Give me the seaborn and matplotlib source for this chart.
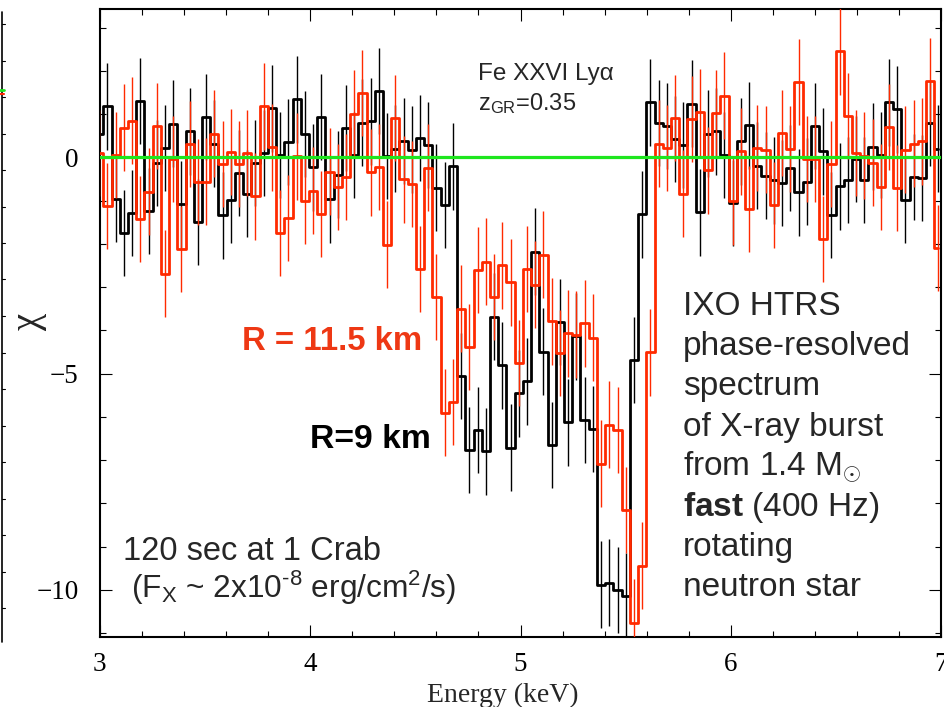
import numpy as np
import pandas as pd
import matplotlib
matplotlib.use("Agg")
import matplotlib.pyplot as plt
from matplotlib.lines import Line2D
from matplotlib.ticker import MultipleLocator
import seaborn as sns

# Chi residuals per spectral channel (3-7 keV), two stellar radii
first_edge_kev = 3.017
channel_width_kev = 0.0391

chi_r9 = [
    0.54, 1.18, -0.96, -1.75, -1.29, 1.30, -1.24, -0.13, 0.22, 0.78,
    -1.09, 0.60, -1.50, 0.93, 0.32, -1.34, -0.98, -0.36, -0.84, -0.13,
    0.10, 1.13, 0.05, 0.35, 1.34, 0.54, -0.23, 0.93, -0.97, -0.40,
    0.68, 0.05, 0.80, 0.83, 1.53, 0.03, 0.20, 0.38, 0.18, 0.45,
    0.28, -0.70, -1.10, -0.21, -5.05, -6.77, -6.30, -6.80, -3.68, -4.81,
    -6.71, -5.46, -5.18, -2.18, -4.49, -6.65, -3.81, -6.13, -4.14, -6.07,
    -6.28, -9.88, -9.83, -10.00, -10.14, -4.68, -1.32, 1.27, 0.79, 0.72,
    0.42, 0.28, 1.24, -1.27, 0.55, 0.60, 0.06, -1.06, 0.37, 0.74,
    -0.19, -0.42, -0.53, -0.59, -0.25, -0.81, -0.56, 0.72, 0.14, -1.33,
    -0.67, -0.52, -0.04, -0.52, 0.25, 0.06, 1.27, 1.11, -0.98, -0.46,
    -0.48, 0.79, 0.20,
]
chi_r115 = [
    0.10, -1.13, 0.06, 0.69, 0.85, -1.43, -0.79, 0.73, -2.69, -0.04,
    -2.12, 0.31, -0.57, -0.56, 0.55, -0.15, 0.12, -0.15, 0.10, -0.90,
    1.18, 0.23, -1.75, -1.40, 0.02, -1.00, -0.77, -1.31, -0.33, -0.68,
    -0.45, 1.01, 1.49, -0.35, -0.22, -2.02, 0.91, -0.51, -0.62, -2.58,
    -0.24, -3.23, -5.90, -5.66, -3.50, -4.38, -2.60, -2.41, -3.23, -2.50,
    -2.89, -4.76, -2.58, -2.94, -2.25, -3.79, -4.52, -4.07, -4.10, -3.84,
    -4.17, -7.08, -6.18, -6.30, -8.15, -10.76, -9.44, -4.51, 0.32, 0.22,
    0.91, -0.84, 0.89, 1.04, -0.30, 1.02, 1.43, -1.02, 0.14, -1.19,
    0.22, 0.18, -1.10, 0.56, 0.19, 1.74, -0.04, -0.04, -1.89, -0.15,
    2.45, 0.96, 0.10, 0.04, -0.12, -0.69, 0.70, -0.71, 0.18, 0.32,
    0.37, 1.76, -2.10,
]
chi_sigma = 1.0

series_names = ["R=9 km", "R = 11.5 km"]
x_ticks = [3, 4, 5, 6, 7]
y_ticks = [0, -5, -10]

right_block = [
    "IXO HTRS",
    "phase-resolved",
    "spectrum",
    "of X-ray burst",
    r"from 1.4 M$_{\odot}$",
    r"$\mathbf{fast}$ (400 Hz)",
    "rotating",
    "neutron star",
]

RED = "#ff2a00"
RED_TXT = "#ee3814"
GREEN = "#1ee61e"

sns.set_theme(style="ticks")
plt.rcParams["font.family"] = ["Liberation Sans", "DejaVu Sans"]
plt.rcParams["mathtext.fontset"] = "custom"
plt.rcParams["mathtext.rm"] = "Liberation Sans"
plt.rcParams["mathtext.it"] = "Liberation Sans:italic"
plt.rcParams["mathtext.bf"] = "Liberation Sans:bold"

W, H = 944, 707
fig = plt.figure(figsize=(W / 100, H / 100), dpi=100)
fig.patch.set_facecolor("white")


def fx(px):
    return px / W


def fy(py):
    return 1 - py / H


ax = fig.add_axes([fx(99.7), fy(637), fx(941.4) - fx(99.7), fy(9) - fy(637)])
ax.set_facecolor("white")

n = len(chi_r9)
energy = first_edge_kev + channel_width_kev * (np.arange(n) - 0.5)
df = pd.DataFrame({
    "energy": np.concatenate([energy, energy]),
    "chi": np.concatenate([chi_r9, chi_r115]),
    "radius": [series_names[0]] * n + [series_names[1]] * n,
})

colors = {series_names[0]: "black", series_names[1]: RED}
for i, name in enumerate(series_names):
    sub = df[df["radius"] == name]
    ax.vlines(sub["energy"], sub["chi"] - chi_sigma, sub["chi"] + chi_sigma,
              color=colors[name], lw=1.0, zorder=2 + 2 * i)
    sns.lineplot(data=sub, x="energy", y="chi", color=colors[name],
                 drawstyle="steps-mid", linewidth=2.0, estimator=None,
                 legend=False, ax=ax, zorder=2.5 + 2 * i)

ax.axhline(0, color=GREEN, lw=2.3, zorder=10)

ax.set_xlim(3, 7)
ax.set_ylim(-11.09, 3.43)
ax.set_xticks(x_ticks)
ax.set_yticks(y_ticks)
ax.xaxis.set_minor_locator(MultipleLocator(0.2))
ax.yaxis.set_minor_locator(MultipleLocator(1))
ax.tick_params(which="both", direction="in", top=True, right=True,
               width=0.8, color="black")
ax.tick_params(which="major", length=8.5)
ax.tick_params(which="minor", length=4)
ax.tick_params(axis="x", which="major", pad=11, labelsize=19.5)
ax.tick_params(axis="y", which="major", pad=15, labelsize=19.5)
for lab in ax.get_xticklabels() + ax.get_yticklabels():
    lab.set_family("Liberation Serif")
    lab.set_color("black")
for s in ax.spines.values():
    s.set_linewidth(1.5)
    s.set_color("black")
ax.set_xlabel("")
ax.set_ylabel("")

fig.text(fx(503), fy(701.5), "Energy (keV)", family="Liberation Serif",
         fontsize=20, ha="center", va="baseline")
fig.text(fx(29), fy(322), "\u03c7", family="Liberation Serif", fontsize=28,
         rotation=90, ha="center", va="center")

fig.text(fx(478), fy(80), "Fe XXVI Ly\u03b1", fontsize=17.5, va="baseline")
fig.text(fx(478), fy(110), r"z$_{\mathrm{GR}}$=0.35", fontsize=17,
         va="baseline")
fig.text(fx(242), fy(350.5), series_names[1], fontsize=23.8, weight="bold",
         color=RED_TXT, va="baseline")
fig.text(fx(310), fy(448), series_names[0], fontsize=24.3, weight="bold",
         color="black", va="baseline")
fig.text(fx(123), fy(560), "120 sec at 1 Crab", fontsize=23.5,
         va="baseline")
fig.text(fx(131), fy(598),
         "(F$_{\\mathrm{X}}$ ~ 2x10$^{\\mathrm{\u20108}}$ erg/cm$^{\\mathrm{2}}$/s)",
         fontsize=22.8, va="baseline")
for i, line in enumerate(right_block):
    fig.text(fx(683), fy(315 + 40.2 * i), line, fontsize=24, va="baseline")

# edge of the neighbouring panel
fig.add_artist(Line2D([fx(1.5), fx(1.5)], [fy(12), fy(642)], color="black",
                      lw=1.2))
for py in np.arange(24, 640, 36.5):
    fig.add_artist(Line2D([fx(1.5), fx(5)], [fy(py), fy(py)], color="black",
                          lw=0.8))
fig.add_artist(Line2D([fx(0), fx(4)], [fy(90), fy(90)], color=GREEN, lw=2))
fig.add_artist(Line2D([fx(0), fx(4)], [fy(94), fy(94)], color=RED, lw=1.5))

fig.savefig("out.png", dpi=100, facecolor="white")
